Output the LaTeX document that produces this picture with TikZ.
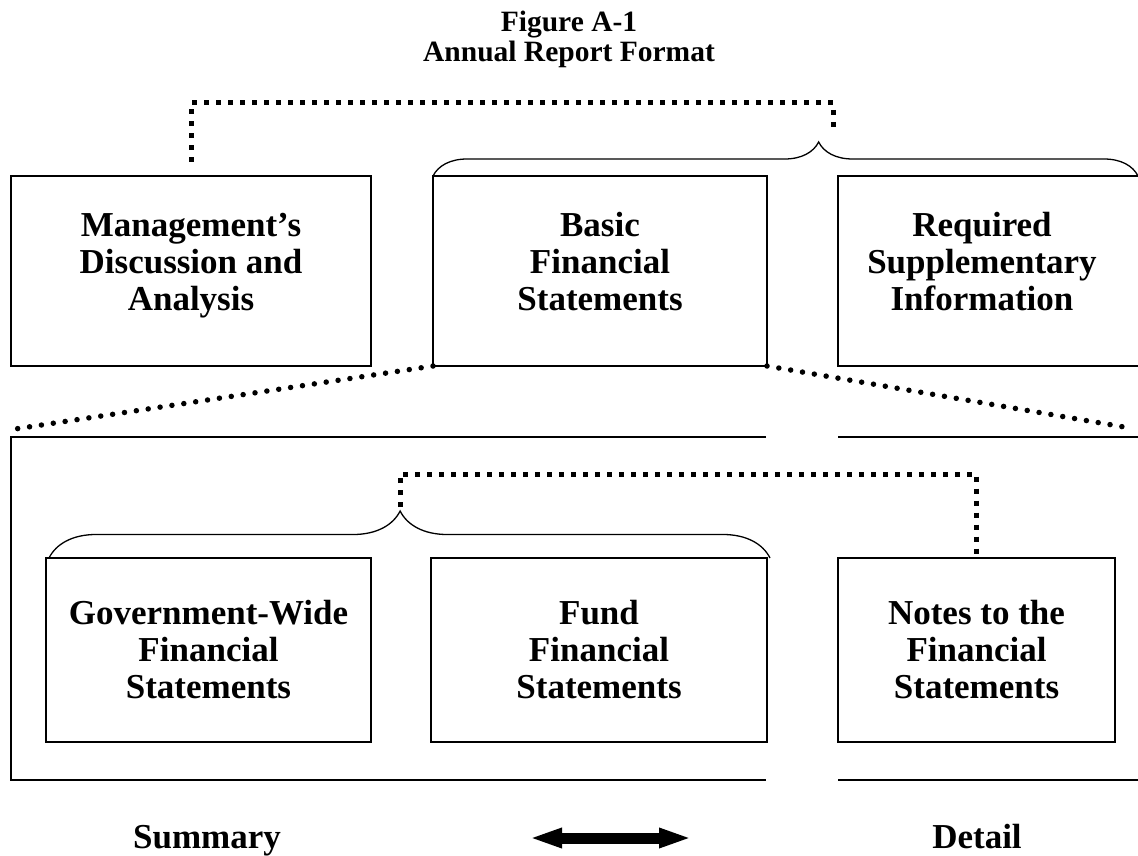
\documentclass[tikz,border=0pt]{standalone}
\usepackage{fontspec}
\setmainfont{Liberation Serif}
\usetikzlibrary{positioning,decorations.pathreplacing,arrows.meta}

\begin{document}
\begin{tikzpicture}
    [x=1pt,y=-1pt,
    box/.style={rectangle,draw=black,line width=2pt,inner sep=0pt,outer sep=0pt,
    minimum height=190pt,align=center,text height=88pt,text depth=10pt,
    font=\fontsize{35}{37}\selectfont\bfseries},
    lowbox/.style={box,minimum height=184pt,text height=106pt},
    words/.style={font=\fontsize{35}{37}\selectfont\bfseries,inner sep=0pt},
    frame/.style={line width=2pt},
    squaredots/.style={line width=5pt,dash pattern=on 5pt off 7pt},
    rounddots/.style={line width=5.5pt,line cap=round,dash pattern=on 0pt off 12pt},
    curly/.style 2 args={line width=1.3pt,decorate,
    decoration={brace,amplitude=#1,aspect=#2}},
    bigarrow/.style={line width=11pt,
    {Triangle[length=33pt,width=18pt]}-{Triangle[length=33pt,width=18pt]}}]
    \useasboundingbox (0,0) rectangle (1138,856);
    \clip (0,0) rectangle (1138,856);
    \node[align=center,inner sep=0pt,font=\fontsize{29.5}{30}\selectfont\bfseries]
        (title) at (569,39) {Figure A-1\\Annual Report Format};
    \node[box,minimum width=360pt] (mda) at (191,271) {Management’s\\Discussion and\\Analysis};
    \node[box,minimum width=334pt] (basic) [right=62pt of mda] {Basic\\Financial\\Statements};
    \node[box,draw=none,minimum width=288pt] (rsi) [right=71pt of basic] {Required\\Supplementary\\Information};
    \draw[frame] ([xshift=40pt]rsi.north east) -- (rsi.north west) -- (rsi.south west) -- ([xshift=40pt]rsi.south east);
    \node[lowbox,minimum width=325pt] (gwfs) at (208.5,650) {Government-Wide\\Financial\\Statements};
    \node[lowbox,minimum width=336pt] (ffs) [right=60pt of gwfs] {Fund\\Financial\\Statements};
    \node[lowbox,minimum width=277pt] (notes) [right=71pt of ffs] {Notes to the\\Financial\\Statements};
    \coordinate (bend) at (1138,176);
    \coordinate (uptip) at (833,130);
    \coordinate (lowtip) at (400,507);
    \coordinate (fl) at (15,429);
    \coordinate (fr) at (1130,428);
    \draw[frame] (766,437) -- (11,437) -- (11,780) -- (766,780);
    \draw[frame] (838,437) -- (1160,437) (838,780) -- (1160,780);
    \draw[curly={34pt}{0.547}] (basic.north west) -- (bend);
    \draw[curly={47pt}{0.487}] ([xshift=3pt]gwfs.north west) -- ([xshift=3pt]ffs.north east);
    \draw[squaredots] ([yshift=14pt]mda.north) -- ++(0,-59) -| (uptip);
    \draw[squaredots] (lowtip) -- ++(0,-33) -| (notes.north);
    \draw[rounddots] (basic.south west) -- (fl);
    \draw[rounddots] (basic.south east) -- (fr);
    \node[words,anchor=base] (summary) at (207,848) {Summary};
    \node[words,anchor=base] (detail) at (977,848) {Detail};
    \coordinate (al) at (529,838);
    \coordinate (ar) at (692,838);
    \draw[bigarrow] (al) -- (ar);
\end{tikzpicture}
\end{document}
